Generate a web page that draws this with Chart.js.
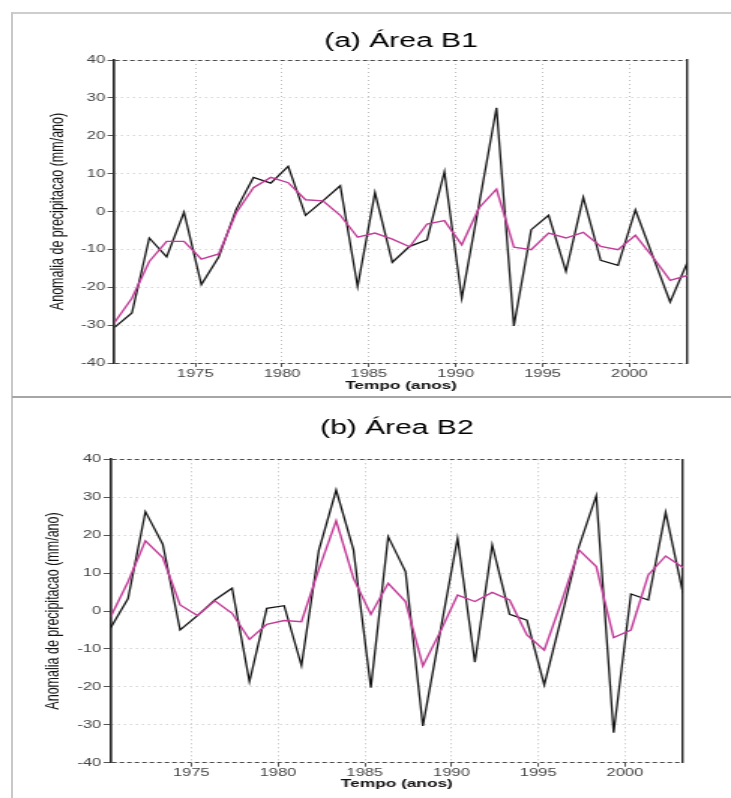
<!DOCTYPE html>
<html>
<head>
<meta charset="utf-8">
<script src="https://cdn.jsdelivr.net/npm/chart.js@4/dist/chart.umd.min.js"></script>
<style>
  html, body { margin: 0; padding: 0; background: #fff; }
  #page { position: relative; width: 731px; height: 798px; overflow: hidden; background: #fff; }
  .wrap { position: absolute; left: 0; width: 487px; transform-origin: 0 0; transform: scaleX(1.50103); }
  #wrapA { top: 0; height: 397px; }
  #wrapB { top: 397px; height: 401px; }
  .rule { position: absolute; }
</style>
</head>
<body>
<div id="page">
  <div class="wrap" id="wrapA"><canvas id="chartA"></canvas></div>
  <div class="wrap" id="wrapB"><canvas id="chartB"></canvas></div>
  <div class="rule" style="left:12px;top:12px;width:719px;height:2px;background:#cdcdcd;"></div>
  <div class="rule" style="left:11px;top:12px;width:2px;height:786px;background:#c8c8c8;"></div>
  <div class="rule" style="left:12px;top:396px;width:719px;height:2px;background:#a6a6a6;"></div>
</div>
<script>
// ---------------- data ----------------
const years = [1970,1971,1972,1973,1974,1975,1976,1977,1978,1979,1980,1981,1982,1983,1984,1985,1986,
               1987,1988,1989,1990,1991,1992,1993,1994,1995,1996,1997,1998,1999,2000,2001,2002,2003];
const TIME_OFFSET = 0.35; // annual values are plotted slightly after the start of each year

const b1Anomaly = [-30.6,-26.8,-7.0,-12.0,-0.2,-19.3,-12.0,0.5,9.0,7.5,11.9,-1.0,2.8,6.8,-19.8,5.0,-13.4,
                   -9.2,-7.5,10.5,-22.9,2.0,27.4,-30.2,-4.8,-1.0,-15.8,3.7,-12.9,-14.2,0.4,-11.8,-23.9,-13.4];
const b1Smooth  = [-29.3,-22.9,-13.2,-7.9,-7.9,-12.6,-11.2,-0.4,6.3,9.0,7.6,3.1,2.8,-1.0,-6.8,-5.7,-7.3,
                   -9.3,-3.3,-2.4,-8.8,1.0,5.9,-9.4,-10.1,-5.7,-7.0,-5.5,-9.2,-10.1,-6.3,-12.0,-18.2,-16.9];

const b2Anomaly = [-4.4,3.3,26.2,17.6,-5.0,-1.2,2.9,6.0,-18.6,0.7,1.4,-14.4,16.0,31.9,16.1,-20.2,19.6,
                   10.4,-30.3,-5.5,19.2,-13.5,17.4,-0.9,-2.4,-19.5,-1.5,17.0,30.4,-32.1,4.5,2.9,26.0,4.7];
const b2Smooth  = [-1.5,7.7,18.5,14.1,1.6,-1.2,2.7,-0.6,-7.5,-3.5,-2.5,-2.8,11.0,23.8,8.6,-0.9,7.3,
                   2.5,-14.5,-5.5,4.2,2.5,4.9,2.9,-6.3,-10.3,2.5,16.1,11.7,-7.0,-5.0,9.5,14.5,11.5];

const xTickYears = [1975, 1980, 1985, 1990, 1995, 2000];
const yTicks = [-40, -30, -20, -10, 0, 10, 20, 30, 40];
const titles = ['(a) Área B1', '(b) Área B2'];
const xTitle = 'Tempo (anos)';
const yTitle = 'Anomalia de precipitacao (mm/ano)';

// ---------------- chart ----------------
Chart.defaults.font.family = "'Liberation Sans', Arial, sans-serif";
Chart.defaults.color = '#333';

function pts(vals) { return vals.map((v, i) => ({ x: years[i] + TIME_OFFSET, y: v })); }

function makeChart(id, title, obs, smooth, L) {
  const xMin = years[0] + TIME_OFFSET, xMax = years[years.length - 1] + TIME_OFFSET;
  const yMin = yTicks[0], yMax = yTicks[yTicks.length - 1];
  return new Chart(document.getElementById(id), {
    type: 'line',
    data: {
      datasets: [
        { label: 'media movel', data: pts(smooth), borderColor: '#c23b98', borderWidth: 1.4,
          pointRadius: 0, tension: 0, fill: false },
        { label: 'anomalia', data: pts(obs), borderColor: '#151515', borderWidth: 1.3,
          pointRadius: 0, tension: 0, fill: false }
      ]
    },
    options: {
      responsive: true, maintainAspectRatio: false, animation: false,
      layout: { padding: { top: 0, left: 0, right: L.right, bottom: 0 } },
      plugins: {
        legend: { display: false }, tooltip: { enabled: false },
        title: { display: true, text: title, fullSize: false, color: '#000',
                 font: { size: 20, weight: 'normal' }, padding: { top: L.tTop, bottom: L.tBot } }
      },
      scales: {
        x: {
          type: 'linear', min: xMin, max: xMax,
          afterBuildTicks: (s) => { s.ticks = xTickYears.map(v => ({ value: v })); },
          afterFit: (s) => { s.height = L.xH; },
          ticks: { callback: (v) => String(v), color: '#444', font: { size: 11 }, padding: L.xPad, maxRotation: 0, autoSkip: false },
          grid: { color: '#bdbdbd', lineWidth: 1, tickLength: 4, tickColor: '#555', tickWidth: 1 },
          border: { display: false, dash: [1, 3] },
          title: { display: true, text: xTitle, color: '#111', font: { size: 11.5, weight: 'bold' },
                   padding: { top: 0, bottom: L.xtBot } }
        },
        y: {
          type: 'linear', min: yMin, max: yMax,
          afterBuildTicks: (s) => { s.ticks = yTicks.map(v => ({ value: v })); },
          afterFit: (s) => { s.width = L.yW; },
          ticks: { callback: (v) => String(v), color: '#444', font: { size: 11 }, padding: 1.6 },
          grid: {
            color: (c) => (c.tick && (c.tick.value === yMin || c.tick.value === yMax)) ? '#4a4a4a' : '#c4c4c4',
            lineWidth: 1, tickLength: 4.7, tickColor: '#555', tickWidth: 1
          },
          border: { display: true, color: '#2a2a2a', width: 1.7,
                    dash: (c) => (c.tick && (c.tick.value === yMin || c.tick.value === yMax)) ? [3, 2] : [1, 3] },
          title: { display: true, text: yTitle, color: '#111', font: { size: 12.5 },
                   padding: { top: L.ytTop, bottom: 0 } }
        },
        yR: {
          type: 'linear', position: 'right', min: yMin, max: yMax,
          afterFit: (s) => { s.width = 0; },
          ticks: { display: false },
          grid: { display: false, drawTicks: false },
          border: { display: true, color: '#222', width: 1.4 }
        }
      }
    }
  });
}

makeChart('chartA', titles[0], b1Anomaly, b1Smooth,
  { right: 29, tTop: 29, tBot: 7, xH: 34, xPad: 0.4, xtBot: 4.6, yW: 76.3, ytTop: 31.1 });
makeChart('chartB', titles[1], b2Anomaly, b2Smooth,
  { right: 32, tTop: 19, tBot: 19.3, xH: 35.3, xPad: 0, xtBot: 7.6, yW: 73.75, ytTop: 28.5 });
</script>
</body>
</html>
